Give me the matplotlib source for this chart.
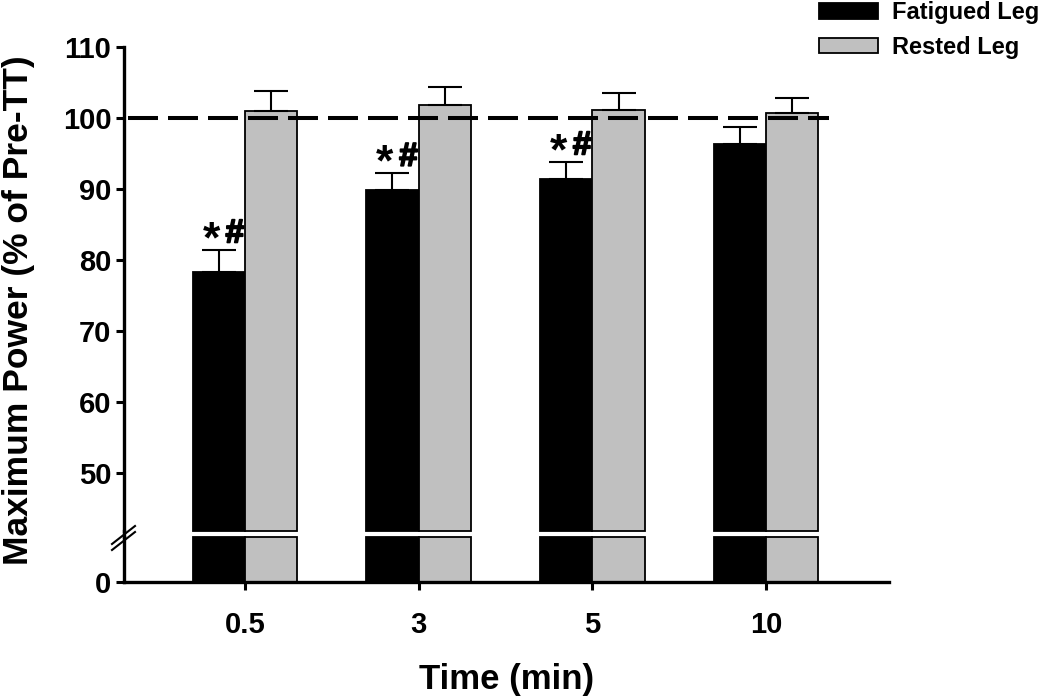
import numpy as np
import matplotlib
matplotlib.use('Agg')
import matplotlib.pyplot as plt
from matplotlib.lines import Line2D
import matplotlib.patheffects as pe

# ---- data ----
times = ['0.5', '3', '5', '10']
fatigued = [78.3, 89.9, 91.4, 96.3]
fatigued_se = [3.1, 2.3, 2.4, 2.5]
rested = [101.0, 101.9, 101.1, 100.7]
rested_se = [2.8, 2.5, 2.4, 2.1]
sig_flags = [True, True, True, False]
ref_level = 100
upper_ticks = [50, 60, 70, 80, 90, 100, 110]

plt.rcParams['font.family'] = ['Liberation Sans', 'DejaVu Sans']
plt.rcParams['font.weight'] = 'bold'

W, H = 1050, 697
fig = plt.figure(figsize=(W / 100, H / 100), dpi=100)

# axes geometry (pixels)
left_px, right_px = 124, 889
top_upper, bot_upper = 47, 531
top_lower, bot_lower = 537, 582

ax_top = fig.add_axes([left_px / W, 1 - bot_upper / H, (right_px - left_px) / W, (bot_upper - top_upper) / H])
ax_low = fig.add_axes([left_px / W, 1 - bot_lower / H, (right_px - left_px) / W, (bot_lower - top_lower) / H])

x = np.arange(len(times))
w = 0.302
xlim = (-0.697, 3.708)
y_top_lim = (110 - 10 * (bot_upper - top_upper) / 71.0, 110)
y_low_lim = (0, 1)

black = '#000000'
gray = '#c0c0c0'
lw_edge = 1.3

# upper axes bars (start at the break)
b0 = y_top_lim[0]
ax_top.bar(x - w / 2, np.array(fatigued) - b0, w, bottom=b0, color=black,
           edgecolor='black', linewidth=lw_edge, clip_on=False, label='Fatigued Leg')
ax_top.bar(x + w / 2, np.array(rested) - b0, w, bottom=b0, color=gray,
           edgecolor='black', linewidth=lw_edge, clip_on=False, label='Rested Leg')
ax_top.errorbar(x - w / 2, fatigued, yerr=[np.zeros(len(x)), fatigued_se], fmt='none',
                ecolor='black', elinewidth=1.5, capsize=12, capthick=1.5, zorder=1)
ax_top.errorbar(x + w / 2, rested, yerr=[np.zeros(len(x)), rested_se], fmt='none',
                ecolor='black', elinewidth=1.5, capsize=12, capthick=1.5, zorder=1)

# reference dashed line
ax_top.plot([-0.674, 3.36], [ref_level, ref_level], color='black', linewidth=2.9,
            dashes=(21.6 / 2.9, 7.2 / 2.9), zorder=3)

# significance markers
for xi, v, se, flag in zip(x, fatigued, fatigued_se, sig_flags):
    if flag:
        ax_top.annotate('#', xy=(xi - w / 2, v + se), xytext=(11.5, 5.5), textcoords='offset points',
                        ha='center', va='baseline', fontsize=24, fontweight='bold',
                        path_effects=[pe.withStroke(linewidth=1.3, foreground='black')])
        ax_top.annotate('*', xy=(xi - w / 2, v + se), xytext=(-5.5, -1.5), textcoords='offset points',
                        ha='center', va='baseline', fontsize=32, fontweight='bold')

ax_top.set_xlim(*xlim)
ax_top.set_ylim(*y_top_lim)
ax_top.set_yticks(upper_ticks)
ax_top.set_xticks([])
for s in ['top', 'right', 'bottom']:
    ax_top.spines[s].set_visible(False)
ax_top.spines['left'].set_linewidth(2.4)
ax_top.spines['left'].set_bounds(y_top_lim[0], 110)
ax_top.tick_params(axis='y', direction='out', length=6, width=2.2, pad=3, labelsize=21)

# lower axes bars
low_top = y_low_lim[1]
ax_low.bar(x - w / 2, np.minimum(fatigued, low_top), w, color=black,
           edgecolor='black', linewidth=lw_edge, clip_on=False)
ax_low.bar(x + w / 2, np.minimum(rested, low_top), w, color=gray,
           edgecolor='black', linewidth=lw_edge, clip_on=False)
ax_low.set_xlim(*xlim)
ax_low.set_ylim(*y_low_lim)
ax_low.set_yticks([0])
ax_low.set_xticks(x)
ax_low.set_xticklabels(times)
for s in ['top', 'right']:
    ax_low.spines[s].set_visible(False)
ax_low.spines['left'].set_linewidth(2.4)
ax_low.spines['bottom'].set_linewidth(2.4)
ax_low.tick_params(axis='y', direction='out', length=6, width=2.2, pad=3, labelsize=21)
ax_low.tick_params(axis='x', direction='out', length=6, width=2.2, pad=15, labelsize=21)
for t in ax_low.get_xticklabels() + ax_low.get_yticklabels() + ax_top.get_yticklabels():
    t.set_fontweight('bold')

# connect spine across the break
fig.add_artist(Line2D([left_px / W, left_px / W], [1 - bot_upper / H, 1 - top_lower / H],
                      color='black', linewidth=2.4, transform=fig.transFigure))
# break marks
for dy in (0, 6):
    fig.add_artist(Line2D([112 / W, 135 / W], [1 - (544 + dy) / H, 1 - (526 + dy) / H],
                          color='black', linewidth=1.5, transform=fig.transFigure))

# labels
fig.text(507 / W, 1 - 679 / H, 'Time (min)', ha='center', va='center', fontsize=25, fontweight='bold')
fig.text(19 / W, 1 - 310 / H, 'Maximum Power (% of Pre-TT)', ha='center', va='center',
         rotation=90, fontsize=25.5, fontweight='bold')

# legend
leg = fig.legend(loc='upper left', bbox_to_anchor=(819 / W, 1 - 1 / H), frameon=False,
                 fontsize=17, handlelength=2.5, handleheight=0.64, handletextpad=0.6,
                 labelspacing=0.5, borderpad=0, borderaxespad=0)
for t in leg.get_texts():
    t.set_fontweight('bold')

fig.savefig('out.png', dpi=100)
